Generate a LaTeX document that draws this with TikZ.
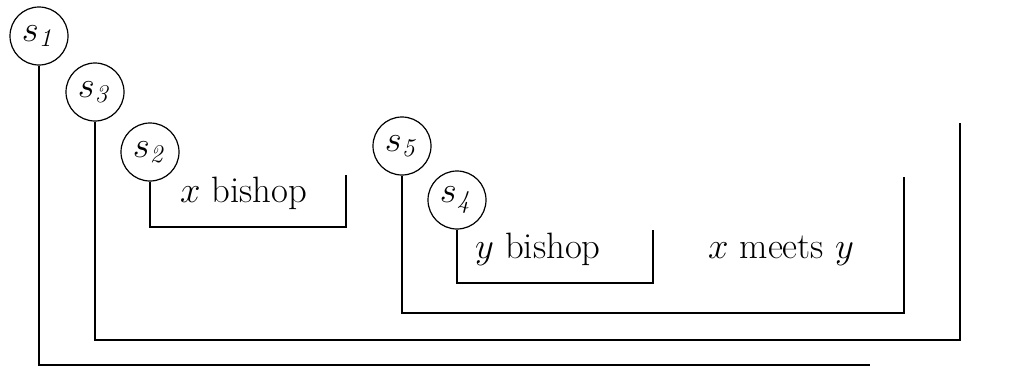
\documentclass[tikz,border=0pt]{standalone}
\usepackage{graphicx}
\newcommand{\bigtxt}[1]{\scalebox{1.77}{\fontsize{20.74}{25}\selectfont #1}}
\begin{document}
\begin{tikzpicture}[x=1pt,y=-1pt,
  snode/.style={circle,draw,line width=1.2pt,minimum size=58pt,inner sep=0pt},
  lbl/.style={anchor=base west,inner sep=0pt},
  brk/.style={line width=1.3pt}]
\useasboundingbox (0,0) rectangle (1010,368);
\node[snode] (s1) at (39,36) {\bigtxt{$s_{\mathit{1}}$}};
\node[snode] (s3) at (95,92) {\bigtxt{$s_{\mathit{3}}$}};
\node[snode] (s2) at (150,152) {\bigtxt{$s_{\mathit{2}}$}};
\node[snode] (s5) at (402,146) {\bigtxt{$s_{\mathit{5}}$}};
\node[snode] (s4) at (457,200) {\bigtxt{$s_{\mathit{4}}$}};
\node[lbl] (t2) at (180,202) {\bigtxt{$x$ bishop}};
\node[lbl] (t4) at (475,258) {\bigtxt{$y$ bishop}};
\node[lbl] (t5) at (708,258) {\bigtxt{$x$ meets $y$}};
\coordinate (e1) at (870,365);
\coordinate (c3b) at (960,340);
\coordinate (c3t) at (960,123);
\coordinate (c2b) at (346,227);
\coordinate (c2t) at (346,175);
\coordinate (c5b) at (904,313);
\coordinate (c5t) at (904,177);
\coordinate (c4b) at (653,283);
\coordinate (c4t) at (653,230);
\draw[brk] (s1.south) |- (e1);
\draw[brk] (s3.south) |- (c3b) -- (c3t);
\draw[brk] (s2.south) |- (c2b) -- (c2t);
\draw[brk] (s5.south) |- (c5b) -- (c5t);
\draw[brk] (s4.south) |- (c4b) -- (c4t);
\end{tikzpicture}
\end{document}
